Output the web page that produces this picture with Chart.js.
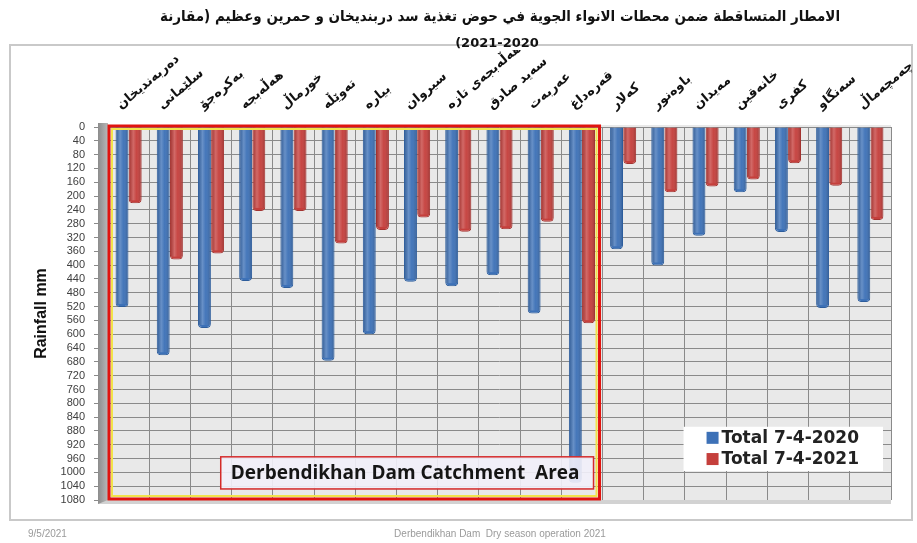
<!DOCTYPE html>
<html><head><meta charset="utf-8">
<script src="https://cdn.jsdelivr.net/npm/chart.js@4/dist/chart.umd.min.js"></script>
<style>html,body{margin:0;padding:0;background:#fff}#wrap{width:917px;height:543px;position:relative}</style>
</head><body><div id="wrap"><canvas id="c" width="917" height="543"></canvas></div>
<script>
const titleLine1 = "الامطار المتساقطة ضمن محطات الانواء الجوية في حوض تغذية سد دربنديخان و حمرين وعظيم (مقارنة";
const titleLine2 = "(2021-2020";
const stations = ["دەربەندیخان","سلێمانی","بەکرەجۆ","هەڵەبجە","خورماڵ","تەوێڵە","بیارە","سیروان","هەڵەبجەی تازە","سەید صادق","عەربەت","قەرەداغ","کەلار","باوەنور","مەیدان","خانەقین","کفری","سەنگاو","چەمچەماڵ"];
const total2020 = [521, 661, 582, 446, 466, 677, 600, 448, 461, 429, 540, 1030, 354, 401, 315, 189, 304, 524, 507];
const total2021 = [221, 384, 366, 243, 243, 337, 298, 262, 303, 296, 274, 568, 107, 189, 172, 152, 105, 170, 269];
const yTickValues = [0,40,80,120,160,200,240,280,320,360,400,440,480,520,560,600,640,680,720,760,800,840,880,920,960,1000,1040,1080];
const seriesNames = ["Total 7-4-2020", "Total 7-4-2021"];
const yAxisTitle = "Rainfall mm";
const catchmentLabel = "Derbendikhan Dam Catchment  Area";
const catchmentStations = 12;
const footerLeft = "9/5/2021";
const footerCenter = "Derbendikhan Dam  Dry season operation 2021";

const BLUE = '#3d71b7', RED = '#c53f3c';

const decor = {
  id: 'decor',
  beforeDraw(chart) {
    const c = chart.ctx, a = chart.chartArea;
    c.save();
    c.fillStyle = '#fff'; c.fillRect(0, 0, chart.width, chart.height);
    c.strokeStyle = '#c9c9c9'; c.lineWidth = 2;
    c.strokeRect(10, 45, 902, 475);
    c.fillStyle = '#e9e9e9';
    c.fillRect(a.left, a.top - 2, a.right - a.left, a.bottom - a.top + 2);
    c.fillStyle = '#111';
    c.font = 'bold 15px "DejaVu Sans"';
    c.textAlign = 'center'; c.textBaseline = 'alphabetic';
    c.direction = 'rtl';
    c.fillText(titleLine1, 500, 21, 680);
    c.restore();
    c.save();
    c.direction = 'ltr';
    c.fillStyle = '#111';
    c.textAlign = 'center'; c.textBaseline = 'alphabetic';
    c.font = 'bold 13px "DejaVu Sans"';
    c.fillText(titleLine2, 497, 47);
    c.fillStyle = '#9a9a9a';
    c.font = '10px "Liberation Sans"';
    c.textAlign = 'left';
    c.fillText(footerLeft, 28, 537);
    c.textAlign = 'center';
    c.fillText(footerCenter, 500, 537, 258);
    c.restore();
  },
  beforeDatasetsDraw(chart) {
    const c = chart.ctx, a = chart.chartArea;
    c.save();
    const g = c.createLinearGradient(a.left - 10, 0, a.left, 0);
    g.addColorStop(0, '#8c8c8c'); g.addColorStop(1, '#b8b8b8');
    c.fillStyle = g;
    c.fillRect(a.left - 10, a.top - 4, 10, a.bottom - a.top + 8);
    c.fillStyle = '#d2d2d2';
    c.beginPath();
    c.moveTo(a.left - 10, a.bottom + 4);
    c.lineTo(a.right, a.bottom + 4);
    c.lineTo(a.right, a.bottom);
    c.lineTo(a.left, a.bottom);
    c.closePath(); c.fill();
    c.restore();
  },
  afterDatasetsDraw(chart) {
    const c = chart.ctx, a = chart.chartArea;
    const xs = chart.scales.x, ys = chart.scales.y;
    c.save();
    chart.data.datasets.forEach((ds, di) => {
      chart.getDatasetMeta(di).data.forEach(el => {
        const w = el.width, x0 = el.x - w / 2;
        const top = Math.min(el.y, el.base), bot = Math.max(el.y, el.base);
        const gr = c.createLinearGradient(x0, 0, x0 + w, 0);
        gr.addColorStop(0, 'rgba(0,0,0,0.18)');
        gr.addColorStop(0.35, 'rgba(255,255,255,0.22)');
        gr.addColorStop(0.6, 'rgba(255,255,255,0.04)');
        gr.addColorStop(1, 'rgba(0,0,0,0.22)');
        c.fillStyle = gr;
        c.fillRect(x0 + 1, top, w - 2, Math.max(0, bot - top - 3));
      });
    });
    const rRight = (xs.getPixelForTick(catchmentStations - 1) + xs.getPixelForTick(catchmentStations)) / 2 - 3;
    const rLeft = a.left + 1, rTop = a.top - 1, rBot = a.bottom - 1;
    c.strokeStyle = '#f2e34a'; c.lineWidth = 2;
    c.strokeRect(rLeft + 3, rTop + 3, rRight - rLeft - 6, rBot - rTop - 6);
    c.strokeStyle = '#e0140f'; c.lineWidth = 3;
    c.strokeRect(rLeft, rTop, rRight - rLeft, rBot - rTop);
    c.font = 'bold 19px "Open Sans"';
    const tw = c.measureText(catchmentLabel).width;
    const bRight = rRight - 6, bLeft = bRight - tw - 24;
    const bTop = ys.getPixelForValue(955), bBot = ys.getPixelForValue(1048);
    c.fillStyle = 'rgba(242,240,250,0.9)';
    c.fillRect(bLeft, bTop, bRight - bLeft, bBot - bTop);
    c.strokeStyle = '#d42a2a'; c.lineWidth = 1.5;
    c.strokeRect(bLeft, bTop, bRight - bLeft, bBot - bTop);
    c.fillStyle = '#151515'; c.textAlign = 'left'; c.textBaseline = 'middle';
    c.fillText(catchmentLabel, bLeft + 10, (bTop + bBot) / 2 + 1);
    c.font = 'bold 17px "DejaVu Sans"';
    const lw = Math.max(...seriesNames.map(s => c.measureText(s).width));
    const lRight = a.right - 8, lLeft = lRight - lw - 62;
    const lTop = ys.getPixelForValue(868), lBot = ys.getPixelForValue(996);
    c.fillStyle = '#fff';
    c.fillRect(lLeft, lTop, lRight - lLeft, lBot - lTop);
    const colors = [BLUE, RED];
    seriesNames.forEach((s, i) => {
      const cy = lTop + (lBot - lTop) * (i === 0 ? 0.25 : 0.73);
      c.fillStyle = colors[i];
      c.fillRect(lLeft + 23, cy - 6, 12, 12);
      c.fillStyle = '#222';
      c.fillText(s, lLeft + 38, cy + 1);
    });
    c.restore();
  }
};

new Chart(document.getElementById('c'), {
  type: 'bar',
  data: {
    labels: stations,
    datasets: [
      { label: seriesNames[0], data: total2020, backgroundColor: BLUE, borderColor: '#2d5d9c', borderWidth: 1, borderRadius: 4, borderSkipped: 'start' },
      { label: seriesNames[1], data: total2021, backgroundColor: RED, borderColor: '#a33330', borderWidth: 1, borderRadius: 4, borderSkipped: 'start' }
    ]
  },
  options: {
    responsive: false,
    animation: false,
    devicePixelRatio: 1,
    layout: { padding: { left: 22, top: 50, right: 26, bottom: 43 } },
    datasets: { bar: { categoryPercentage: 0.64, barPercentage: 0.98 } },
    plugins: { legend: { display: false }, title: { display: false }, tooltip: { enabled: false } },
    scales: {
      x: {
        position: 'top',
        grid: { offset: true, color: '#8a8a8a', drawTicks: false },
        border: { display: false },
        ticks: { autoSkip: false, minRotation: 40, maxRotation: 40, padding: 14, color: '#111',
                 font: { family: 'DejaVu Sans', size: 13, weight: 'bold' } },
        afterFit(s) { s.height = 77; s.paddingLeft = 0; s.paddingRight = 0; }
      },
      y: {
        reverse: true, min: 0, max: 1080,
        afterBuildTicks(s) { s.ticks = yTickValues.map(v => ({ value: v })); },
        ticks: { autoSkip: false, padding: 9, color: '#404040', font: { family: 'Liberation Sans', size: 11 },
                 callback: v => String(v) },
        grid: { color: '#8a8a8a', tickLength: 14 },
        border: { display: false },
        title: { display: true, text: yAxisTitle, color: '#111',
                 font: { family: 'Liberation Sans', size: 16, weight: 'bold' }, padding: { top: 10, bottom: 0 } },
        afterFit(s) { s.width = 86; s.paddingTop = 0; s.paddingBottom = 0; }
      }
    }
  },
  plugins: [decor]
});
</script>
</body></html>
